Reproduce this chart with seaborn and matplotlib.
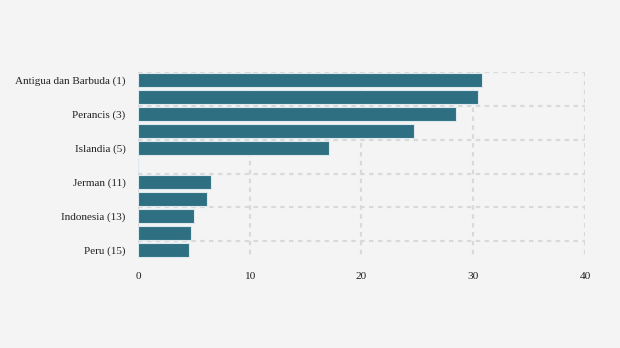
import matplotlib
matplotlib.use("Agg")
import matplotlib.pyplot as plt
import seaborn as sns
import pandas as pd

# Ranked countries (rank in parentheses); the blank row separates top 5 from ranks 11-15
countries = ["Antigua dan Barbuda (1)", "(2)", "Perancis (3)", "(4)", "Islandia (5)", " ",
             "Jerman (11)", "(12)", "Indonesia (13)", "(14)", "Peru (15)"]
values = [30.8, 30.4, 28.5, 24.7, 17.1, 0.0, 6.5, 6.2, 5.0, 4.7, 4.6]
labeled_rows = [0, 2, 4, 6, 8, 10]
x_ticks = [0, 10, 20, 30, 40]

df = pd.DataFrame({"negara": countries, "nilai": values})

sns.set_style("white")
plt.rcParams["font.family"] = ["Liberation Serif", "DejaVu Serif"]

bg = "#f4f4f4"
fig = plt.figure(figsize=(6.2, 3.48), dpi=100, facecolor=bg)
ax = fig.add_axes([0.2226, 0.2572, 0.9435 - 0.2226, 0.7945 - 0.2572])
ax.set_facecolor(bg)

sns.barplot(data=df, x="nilai", y="negara", orient="h", color="#2e6f82",
            saturation=1, width=0.86, edgecolor="#dce9ee", linewidth=0.8,
            ax=ax, zorder=3)

ax.set_xlim(0, 40)
ax.set_ylim(10.5, -0.5)
ax.set_xlabel("")
ax.set_ylabel("")

# dotted grid: vertical at x ticks, horizontal between every other row
grid_kw = dict(color="#d9d9d9", linewidth=1.6, linestyle=(0, (2, 2)), zorder=1)
for xv in x_ticks:
    ax.vlines(xv, -0.5, 10.5, **grid_kw)
for yv in [-0.5, 1.5, 3.5, 5.5, 7.5, 9.5]:
    ax.hlines(yv, 0, 40, **grid_kw)

ax.set_xticks(x_ticks)
ax.set_xticklabels([str(v) for v in x_ticks])
ax.set_yticks(labeled_rows)
ax.set_yticklabels([countries[i] for i in labeled_rows])
ax.tick_params(axis="y", length=4, width=1, color="#dcdcdc", pad=5, labelsize=8, labelcolor="#222222")
ax.tick_params(axis="x", length=0, pad=10, labelsize=8.2, labelcolor="#222222")

for s in ax.spines.values():
    s.set_visible(False)

fig.savefig("out.png", dpi=100, facecolor=bg)
